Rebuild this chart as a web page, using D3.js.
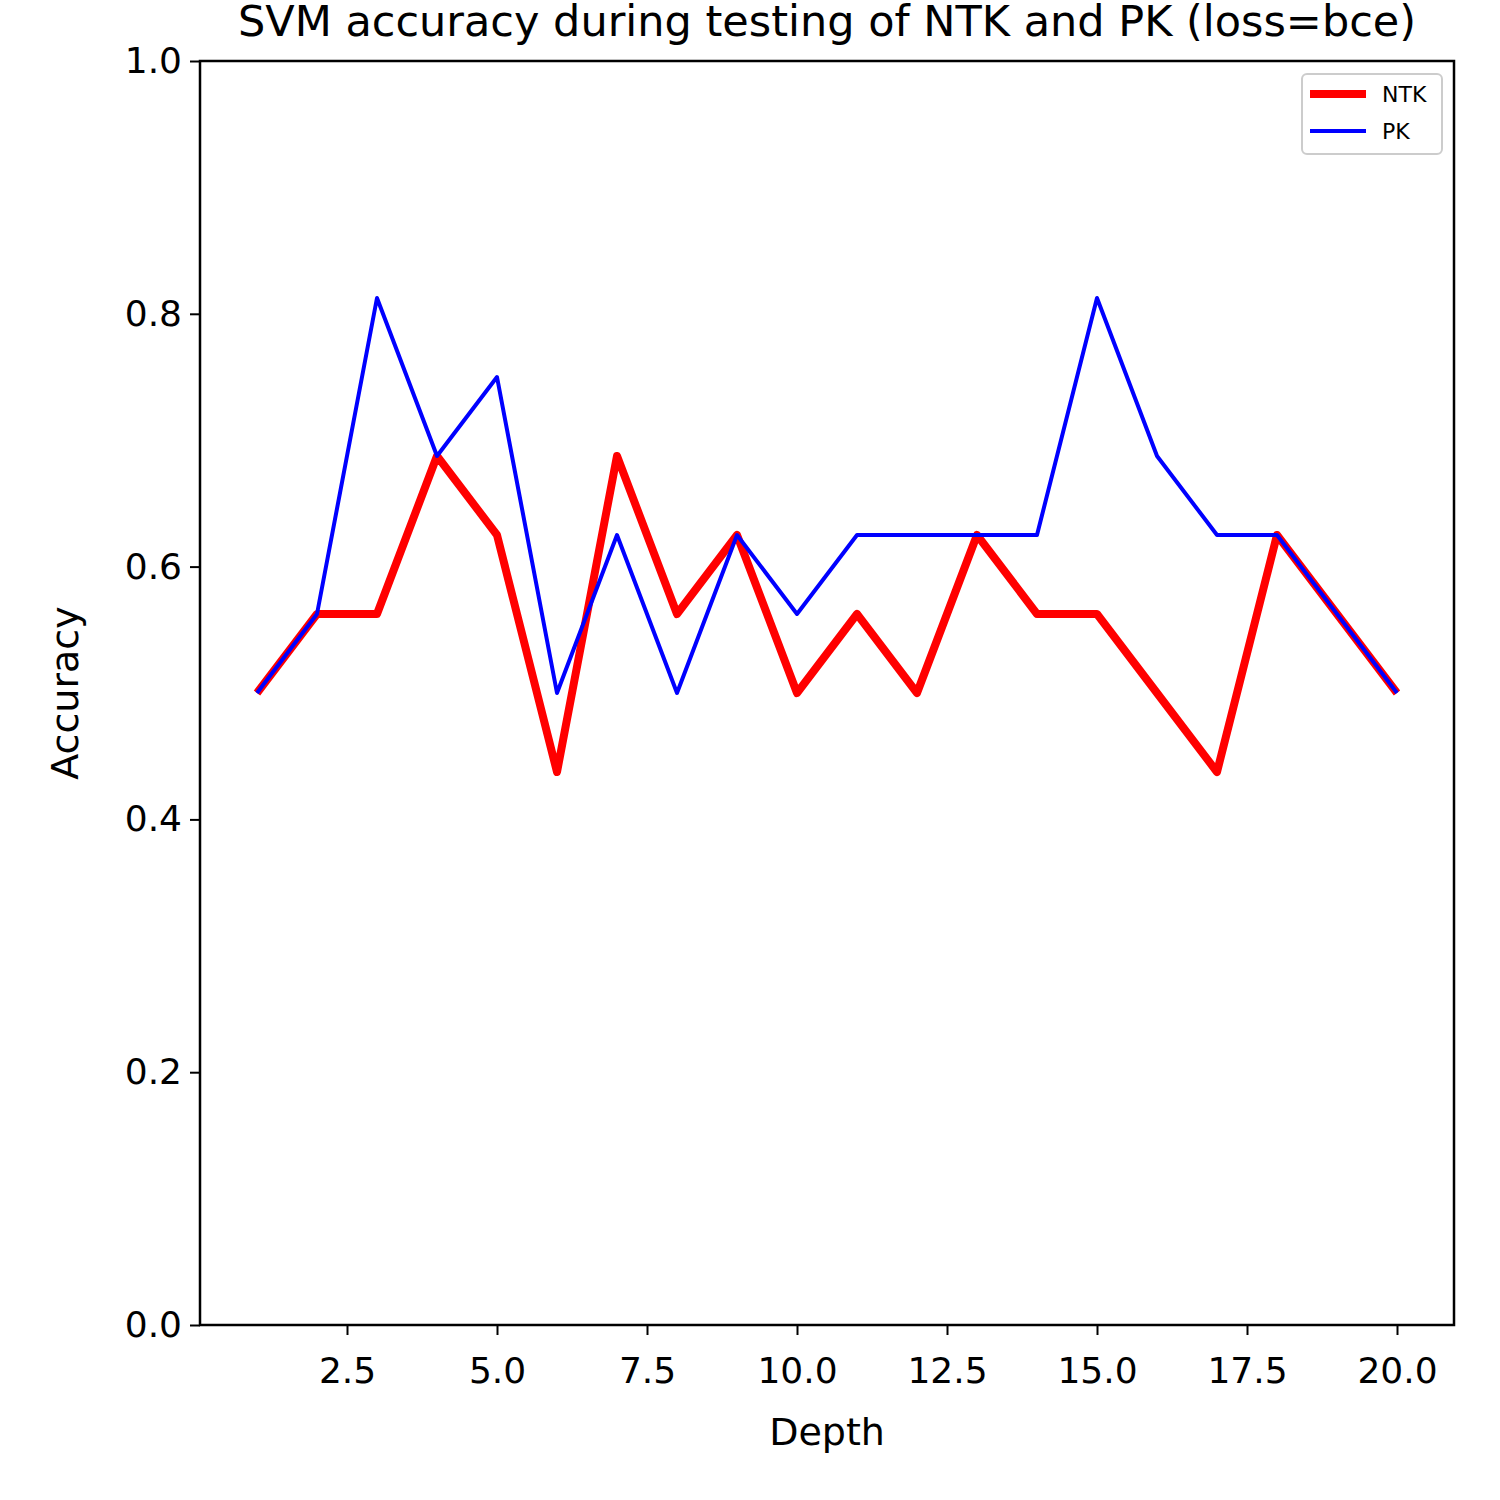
<!DOCTYPE html>
<html lang="en">
<head>
<meta charset="UTF-8">
<script src="https://d3js.org/d3.v7.min.js"></script>
<style>
  body { margin: 0; background: #fff; }
  text { font-family: "DejaVu Sans", sans-serif; }
</style>
</head>
<body>
<svg id="chart" width="1500" height="1500"></svg>
<script>
const depths = d3.range(1, 21);
const ntkAcc = [0.5, 0.5625, 0.5625, 0.6875, 0.625, 0.4375, 0.6875, 0.5625, 0.625, 0.5,
                0.5625, 0.5, 0.625, 0.5625, 0.5625, 0.5, 0.4375, 0.625, 0.5625, 0.5];
const pkAcc = [0.5, 0.5625, 0.8125, 0.6875, 0.75, 0.5, 0.625, 0.5, 0.625, 0.5625,
               0.625, 0.625, 0.625, 0.625, 0.8125, 0.6875, 0.625, 0.625, 0.5625, 0.5];
const xTicks = [2.5, 5, 7.5, 10, 12.5, 15, 17.5, 20];
const yTicks = [0, 0.2, 0.4, 0.6, 0.8, 1.0];

const plotLeft = 200, plotRight = 1454, plotTop = 61, plotBottom = 1325;
const svg = d3.select("#chart");

const x = d3.scaleLinear().domain([0.05, 20.95]).range([plotLeft, plotRight]);
const y = d3.scaleLinear().domain([0, 1]).range([plotBottom, plotTop]);

const xAxis = svg.append("g")
    .attr("transform", `translate(0,${plotBottom})`)
    .call(d3.axisBottom(x).tickValues(xTicks).tickFormat(d3.format(".1f")).tickSize(10).tickPadding(8));
const yAxis = svg.append("g")
    .attr("transform", `translate(${plotLeft},0)`)
    .call(d3.axisLeft(y).tickValues(yTicks).tickFormat(d3.format(".1f")).tickSize(10).tickPadding(8));
[xAxis, yAxis].forEach(a => {
    a.select(".domain").remove();
    a.selectAll("line").attr("stroke", "#000").attr("stroke-width", 2);
    a.selectAll("text").attr("font-size", 36).attr("fill", "#000");
});
xAxis.selectAll("text").attr("dy", "1.1em");

const line = d3.line().x((d, i) => x(depths[i])).y(d => y(d));
svg.append("path").datum(ntkAcc).attr("d", line)
    .attr("fill", "none").attr("stroke", "red").attr("stroke-width", 8).attr("stroke-linejoin", "round");
svg.append("path").datum(pkAcc).attr("d", line)
    .attr("fill", "none").attr("stroke", "blue").attr("stroke-width", 4).attr("stroke-linejoin", "round");

svg.append("rect").attr("x", plotLeft).attr("y", plotTop)
    .attr("width", plotRight - plotLeft).attr("height", plotBottom - plotTop)
    .attr("fill", "none").attr("stroke", "#000").attr("stroke-width", 2.5);

svg.append("text").attr("x", 827).attr("y", 36).attr("text-anchor", "middle")
    .attr("font-size", 43).text("SVM accuracy during testing of NTK and PK (loss=bce)");
svg.append("text").attr("x", 827).attr("y", 1445).attr("text-anchor", "middle")
    .attr("font-size", 38).text("Depth");
svg.append("text").attr("transform", "translate(78,693) rotate(-90)").attr("text-anchor", "middle")
    .attr("font-size", 38).text("Accuracy");

// legend
const lg = svg.append("g");
lg.append("rect").attr("x", 1302).attr("y", 74).attr("width", 140).attr("height", 80).attr("rx", 5)
    .attr("fill", "#fff").attr("stroke", "#ccc").attr("stroke-width", 2);
const items = [{ name: "NTK", color: "red", w: 8 }, { name: "PK", color: "blue", w: 4 }];
items.forEach((it, i) => {
    const yy = 94 + i * 37;
    lg.append("line").attr("x1", 1310).attr("x2", 1366).attr("y1", yy).attr("y2", yy)
        .attr("stroke", it.color).attr("stroke-width", it.w);
    lg.append("text").attr("x", 1382).attr("y", yy + 8).attr("font-size", 22).text(it.name);
});
</script>
</body>
</html>
